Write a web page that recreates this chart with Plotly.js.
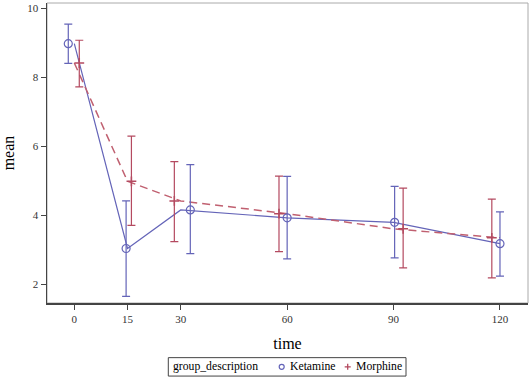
<!DOCTYPE html>
<html><head><meta charset="utf-8">
<script src="https://cdn.plot.ly/plotly-3.0.1.min.js"></script>
<style>html,body{margin:0;padding:0;background:#fff}#g{width:530px;height:378px}</style>
</head><body><div id="g"></div>
<script>
var times = [0, 15, 30, 60, 90, 120];
var tickLabels = ['0', '15', '30', '60', '90', '120'];
var yTicks = [2, 4, 6, 8, 10];
var groups = ['Ketamine', 'Morphine'];
var legendTitle = 'group_description';
// plotted (jittered) x positions of the markers/error bars
var ketX = [-1.7, 14.6, 32.7, 60, 90.3, 120];
var morX = [1.4, 16.1, 28.2, 57.7, 92.7, 117.7];
var ketMean = [8.97, 3.03, 4.15, 3.92, 3.79, 3.17];
var ketUpper = [9.54, 4.41, 5.46, 5.12, 4.83, 4.09];
var ketLower = [8.40, 1.64, 2.88, 2.73, 2.76, 2.23];
var morMean = [8.41, 4.98, 4.41, 4.04, 3.60, 3.34];
var morUpper = [9.07, 6.29, 5.55, 5.13, 4.78, 4.46];
var morLower = [7.72, 3.70, 3.23, 2.94, 2.47, 2.18];

var blue = '#6464b8', red = '#b44a60';
var fontF = 'Liberation Serif';
function diff(a,b){return a.map(function(v,i){return +(b[i]-v).toFixed(3);});}
var traces = [
  {x: times, y: ketMean, mode: 'lines', line: {color: blue, width: 1.2}, showlegend: false, hoverinfo: 'skip'},
  {x: times, y: morMean, mode: 'lines', line: {color: '#c06070', width: 1.5, dash: '8px,5px'}, showlegend: false, hoverinfo: 'skip'},
  {x: ketX, y: ketMean, mode: 'markers', name: groups[0], showlegend: false,
   marker: {symbol: 'circle-open', size: 8, color: blue, line: {width: 1.2}},
   error_y: {type: 'data', symmetric: false, array: diff(ketMean, ketUpper), arrayminus: diff(ketLower, ketMean), color: blue, thickness: 1.2, width: 4}},
  {x: morX, y: morMean, mode: 'markers', name: groups[1], showlegend: false,
   marker: {symbol: 'cross-thin-open', size: 7, color: red, line: {width: 1.5, color: red}},
   error_y: {type: 'data', symmetric: false, array: diff(morMean, morUpper), arrayminus: diff(morLower, morMean), color: red, thickness: 1.2, width: 4}}
];
// pixel -> paper helpers for the hand-made legend
var L = 47, R = 2, T = 3, B = 75.3, W = 530, H = 378;
function px(x){return (x - L) / (W - L - R);}
function py(y){return (H - B - y) / (H - T - B);}
var ly = 366.5;
var shapes = [
  {type: 'rect', xref: 'paper', yref: 'paper', x0: 0, x1: 1, y0: 0, y1: 1, line: {color: '#aaa', width: 1}, layer: 'below'},
  {type: 'rect', xref: 'paper', yref: 'paper', x0: px(168.3), x1: px(406), y0: py(357.3), y1: py(375.7), line: {color: '#444', width: 1}},
  {type: 'circle', xref: 'paper', yref: 'paper', x0: px(279.2), x1: px(284.2), y0: py(ly - 2.5), y1: py(ly + 2.5), line: {color: blue, width: 1.2}},
  {type: 'line', xref: 'paper', yref: 'paper', x0: px(344.7), x1: px(350.7), y0: py(ly), y1: py(ly), line: {color: red, width: 1.3}},
  {type: 'line', xref: 'paper', yref: 'paper', x0: px(347.7), x1: px(347.7), y0: py(ly - 3), y1: py(ly + 3), line: {color: red, width: 1.3}}
];
var annFont = {family: fontF, size: 11.7, color: '#000'};
var annotations = [
  {xref: 'paper', yref: 'paper', x: px(171), y: py(ly), xanchor: 'left', yanchor: 'middle', text: legendTitle, showarrow: false, font: annFont},
  {xref: 'paper', yref: 'paper', x: px(288), y: py(ly), xanchor: 'left', yanchor: 'middle', text: groups[0], showarrow: false, font: annFont},
  {xref: 'paper', yref: 'paper', x: px(354), y: py(ly), xanchor: 'left', yanchor: 'middle', text: groups[1], showarrow: false, font: annFont}
];
var layout = {
  width: W, height: H,
  margin: {l: L, r: R, t: T, b: B, autoexpand: false},
  paper_bgcolor: '#fff', plot_bgcolor: '#fff',
  font: {family: fontF, color: '#333'},
  xaxis: {range: [-7.7, 127.9], tickmode: 'array', tickvals: times, ticktext: tickLabels,
    showgrid: false, zeroline: false, showline: true, linecolor: '#444', linewidth: 1.5,
    ticks: 'outside', ticklen: 5, tickcolor: '#444', tickfont: {family: fontF, size: 11, color: '#333'},
    title: {text: 'time', font: {family: fontF, size: 16, color: '#000'}, standoff: 14}},
  yaxis: {range: [1.45, 10.15], tickmode: 'array', tickvals: yTicks,
    showgrid: false, zeroline: false, showline: true, linecolor: '#444', linewidth: 1.5,
    ticks: 'outside', ticklen: 5, tickcolor: '#444', tickfont: {family: fontF, size: 11, color: '#333'},
    title: {text: 'mean', font: {family: fontF, size: 16, color: '#000'}, standoff: 10}},
  shapes: shapes, annotations: annotations,
  showlegend: false
};
Plotly.newPlot('g', traces, layout, {staticPlot: true});
</script></body></html>
